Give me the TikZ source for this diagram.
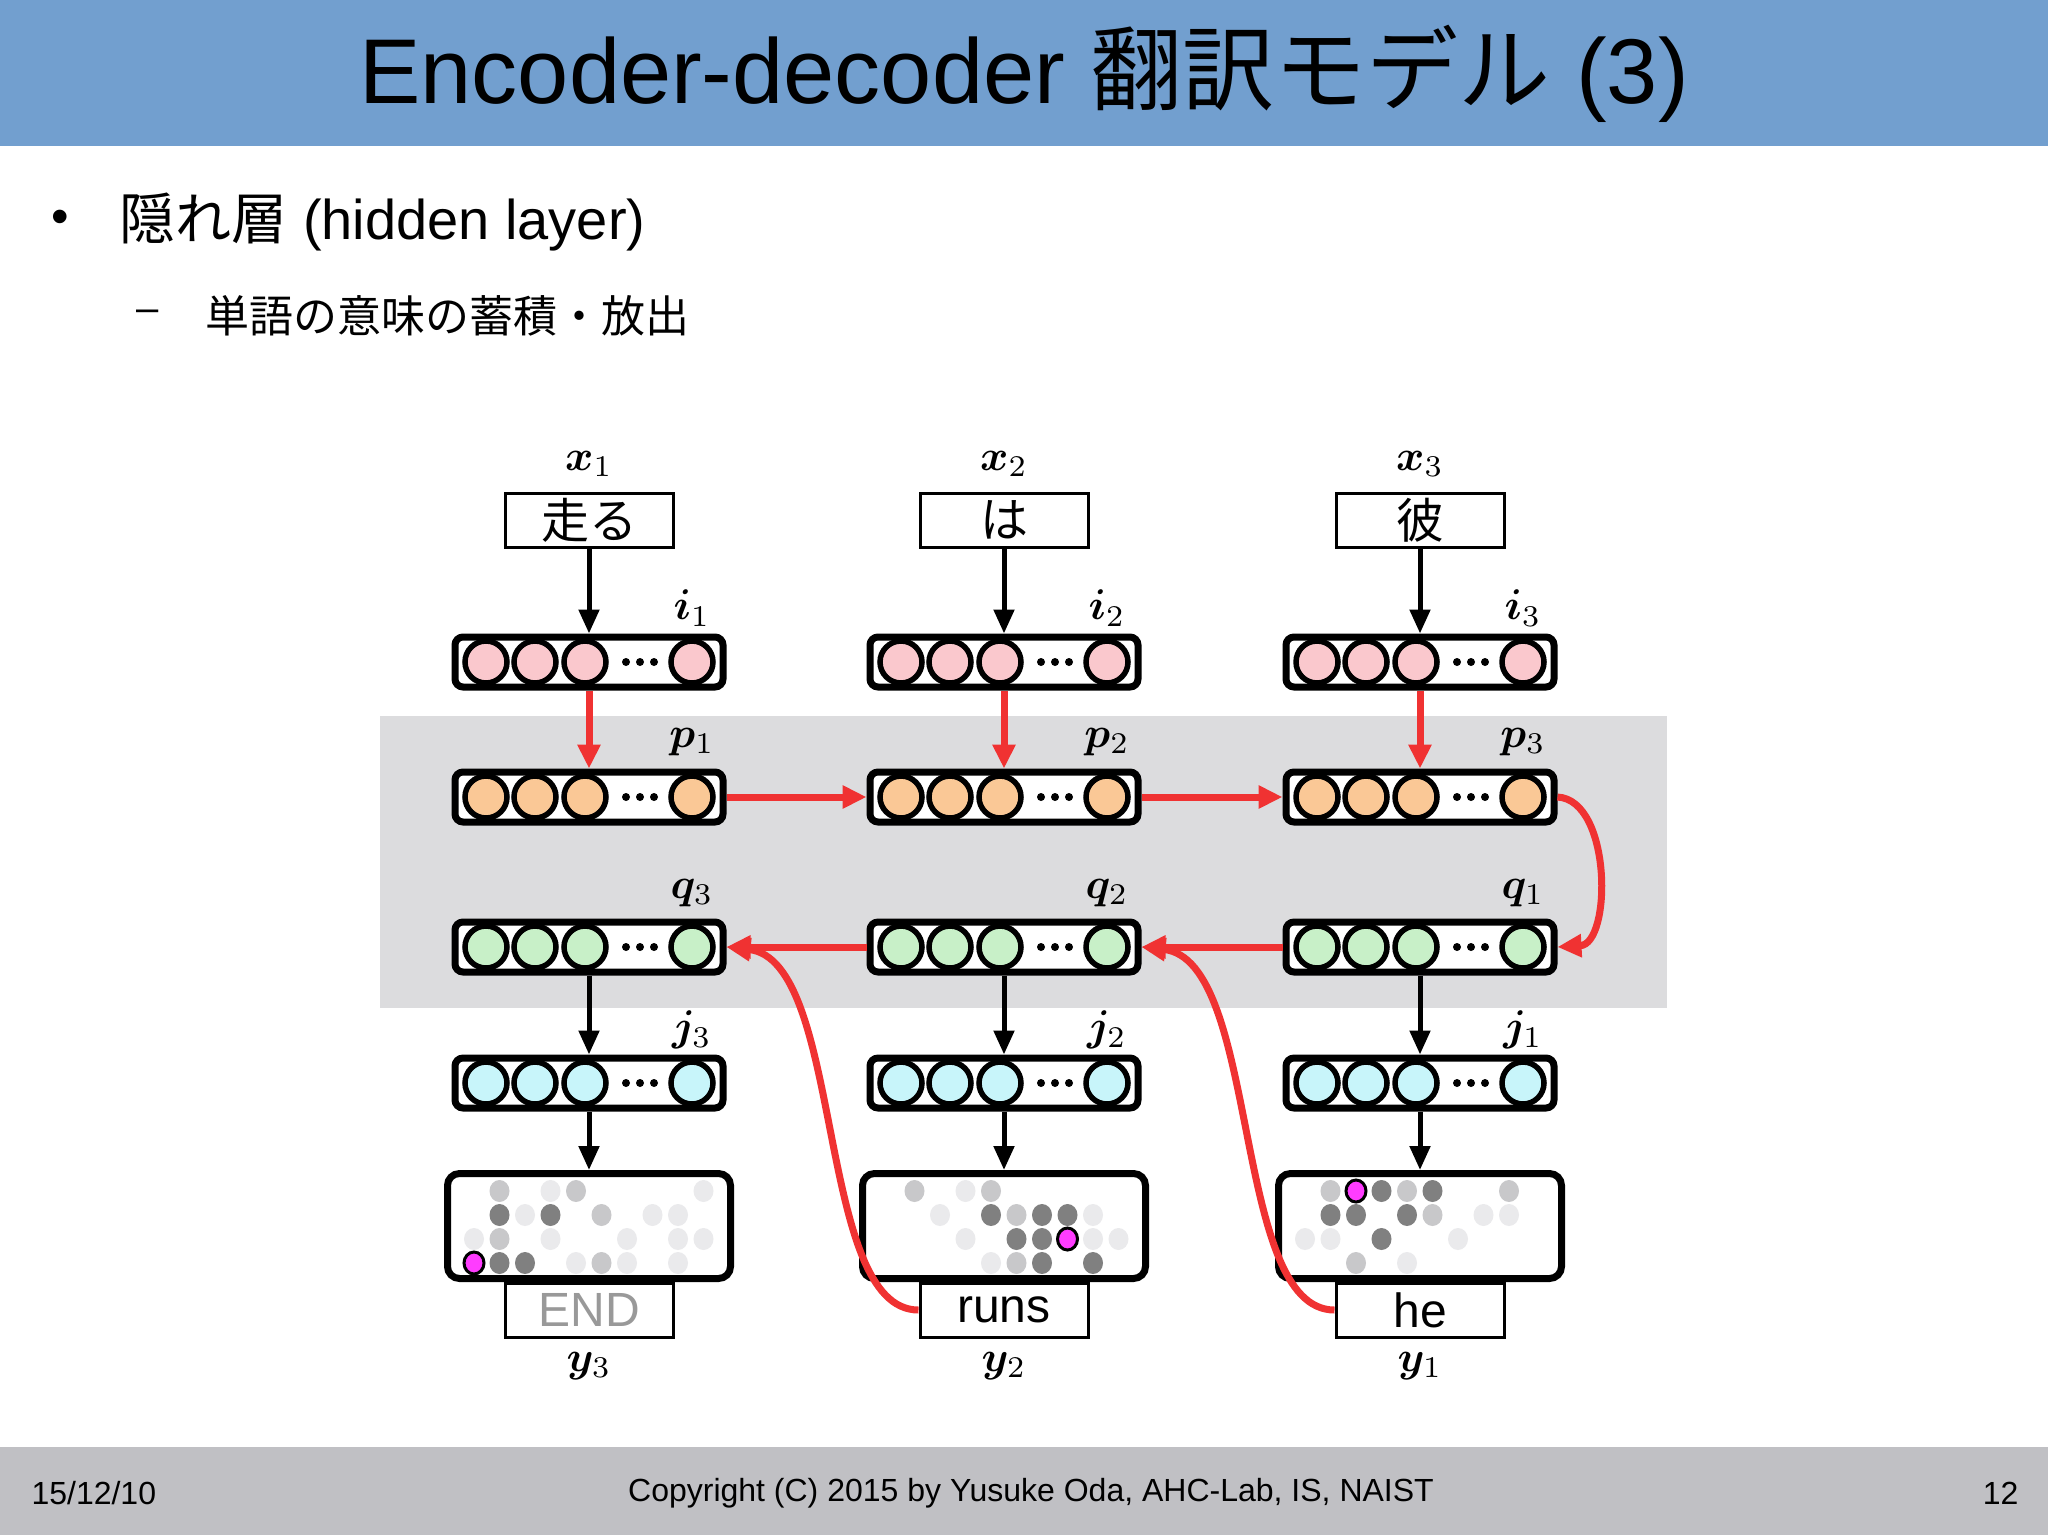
\documentclass[tikz,border=0pt]{standalone}
\usepackage{fontspec}
\usepackage{amsmath,bm}
\setmainfont{Liberation Sans}
\newfontfamily\cjk{Noto Sans CJK JP}
\usetikzlibrary{arrows.meta}
\definecolor{titlebg}{RGB}{114,159,207}
\definecolor{footbg}{RGB}{192,192,196}
\definecolor{band}{RGB}{220,220,222}
\definecolor{cpink}{RGB}{250,200,205}
\definecolor{corange}{RGB}{250,200,150}
\definecolor{cgreen}{RGB}{200,240,200}
\definecolor{ccyan}{RGB}{200,245,250}
\definecolor{rarrow}{RGB}{240,50,50}
\definecolor{dD}{RGB}{128,128,128}
\definecolor{dM}{RGB}{200,200,202}
\definecolor{dL}{RGB}{234,234,236}
\definecolor{mag}{RGB}{255,60,255}
\tikzset{
  vbox/.style={draw,line width=7pt,rounded corners=8pt,minimum width=268pt,minimum height=50pt,inner sep=0pt,fill=white},
  obox/.style={draw,line width=7pt,rounded corners=12pt,minimum width=283pt,minimum height=105pt,inner sep=0pt,fill=white},
  wbox/.style={draw,line width=3pt,minimum width=168pt,minimum height=54pt,inner sep=0pt,fill=white,font=\fontsize{48}{48}\selectfont\cjk},
  lab/.style={scale=4.3},
  barr/.style={line width=5pt,-{Triangle[length=24pt,width=20pt]}},
  rarr/.style={line width=7pt,rarrow,-{Triangle[length=24pt,width=22pt]}},
  mk/.style={draw=black,line width=3pt},
  nk/.style={},
}
\newcommand{\vrow}[4]{%
  \node[vbox] (#1) at (#2,#3) {};
  \foreach \o in {-103,-54,-4,103} \draw[line width=5.5pt,fill=#4] (#2+\o,#3) circle (21pt);
  \foreach \o in {37,51,65} \fill (#2+\o,#3) circle (4pt);
}
\newcommand{\dt}[5]{%
  \path[fill=#4,#5] (#1-115+25.5*#2,1191+24*#3) circle[x radius=10pt,y radius=11pt];
}
\begin{document}
\begin{tikzpicture}[x=1pt,y=-1pt]
\useasboundingbox (0,0) rectangle (2048,1535);
\fill[white] (0,0) rectangle (2048,1535);
\fill[titlebg] (0,0) rectangle (2048,146);
\node[font=\fontsize{92}{92}\selectfont] (title) at (1024,74) {Encoder-decoder {\cjk 翻訳モデル} (3)};
\node[font=\fontsize{50}{50}\selectfont] (bul) at (60,222) {•};
\node[anchor=west,font=\fontsize{56}{56}\selectfont] (b1) at (116,222) {{\cjk 隠れ層} (hidden layer)};
\node[font=\fontsize{40}{40}\selectfont] (dash) at (148,316) {–};
\node[anchor=west,font=\fontsize{44}{44}\selectfont\cjk] (b2) at (202,316) {単語の意味の蓄積・放出};
\fill[footbg] (0,1447) rectangle (2048,1535);
\node[anchor=west,font=\fontsize{32}{32}\selectfont] (f1) at (28,1493) {15/12/10};
\node[font=\fontsize{32}{32}\selectfont] (f2) at (1031,1493) {Copyright (C) 2015 by Yusuke Oda, AHC-Lab, IS, NAIST};
\node[anchor=east,font=\fontsize{32}{32}\selectfont] (f3) at (2022,1493) {12};
\fill[band] (380,716) rectangle (1667,1008);
\foreach \c/\cx/\w/\n/\o/\yl/\yc in {1/589/走る/1/3/END/gray!80,2/1004/は/2/2/runs/black,3/1420/彼/3/1/he/black}{
  \node[lab] (xl\c) at (\cx,464) {$\bm{x}_{\n}$};
  \node[wbox] (x\c) at (\cx,520) {\w};
  \vrow{i\c}{\cx}{662}{cpink}
  \vrow{p\c}{\cx}{797}{corange}
  \vrow{q\c}{\cx}{947}{cgreen}
  \vrow{j\c}{\cx}{1083}{ccyan}
  \node[lab] (il\c) at (\cx+103,608) {$\bm{i}_{\n}$};
  \node[lab] (pl\c) at (\cx+103,742) {$\bm{p}_{\n}$};
  \node[lab] (ql\c) at (\cx+103,893) {$\bm{q}_{\o}$};
  \node[lab] (jl\c) at (\cx+103,1030) {$\bm{j}_{\o}$};
  \node[obox] (o\c) at (\cx,1226) {};
  \node[wbox,text=\yc,font=\fontsize{48}{48}\selectfont] (y\c) at (\cx,1310) {\yl};
  \node[lab] (yl\c) at (\cx,1366) {$\bm{y}_{\o}$};
  \draw[barr] (x\c) -- (i\c);
  \draw[rarr] (i\c) -- (p\c);
  \draw[barr] (q\c) -- (j\c);
  \draw[barr] (j\c) -- (o\c);
}
\draw[rarr] (p1) -- (p2);
\draw[rarr] (p2) -- (p3);
\draw[rarr] (p3.east) .. controls (1612,800) and (1612,944) .. (q3.east -| q3.east) ;
\draw[rarr] (q3) -- (q2);
\draw[rarr] (q2) -- (q1);
\draw[rarr] (y2.west) .. controls (815,1310) and (845,960) .. (q1.east);
\draw[rarr] (y3.west) .. controls (1231,1310) and (1261,960) .. (q2.east);
\foreach \k/\r/\cl/\m in {1/0/dM/nk,3/0/dL/nk,4/0/dM/nk,9/0/dL/nk,
 1/1/dD/nk,2/1/dL/nk,3/1/dD/nk,5/1/dM/nk,7/1/dL/nk,8/1/dL/nk,
 0/2/dL/nk,1/2/dM/nk,3/2/dL/nk,6/2/dL/nk,8/2/dL/nk,9/2/dL/nk,
 0/3/mag/mk,1/3/dD/nk,2/3/dD/nk,4/3/dL/nk,5/3/dM/nk,6/3/dL/nk,8/3/dL/nk}{\dt{589}{\k}{\r}{\cl}{\m}}
\foreach \k/\r/\cl/\m in {1/0/dM/nk,3/0/dL/nk,4/0/dM/nk,
 2/1/dL/nk,4/1/dD/nk,5/1/dM/nk,6/1/dD/nk,7/1/dD/nk,8/1/dL/nk,
 3/2/dL/nk,5/2/dD/nk,6/2/dD/nk,7/2/mag/mk,8/2/dL/nk,9/2/dL/nk,
 4/3/dL/nk,5/3/dM/nk,6/3/dD/nk,8/3/dD/nk}{\dt{1004}{\k}{\r}{\cl}{\m}}
\foreach \k/\r/\cl/\m in {1/0/dM/nk,2/0/mag/mk,3/0/dD/nk,4/0/dM/nk,5/0/dD/nk,8/0/dM/nk,
 1/1/dD/nk,2/1/dD/nk,4/1/dD/nk,5/1/dM/nk,7/1/dL/nk,8/1/dL/nk,
 0/2/dL/nk,1/2/dL/nk,3/2/dD/nk,6/2/dL/nk,
 2/3/dM/nk,4/3/dL/nk}{\dt{1420}{\k}{\r}{\cl}{\m}}
\end{tikzpicture}
\end{document}
